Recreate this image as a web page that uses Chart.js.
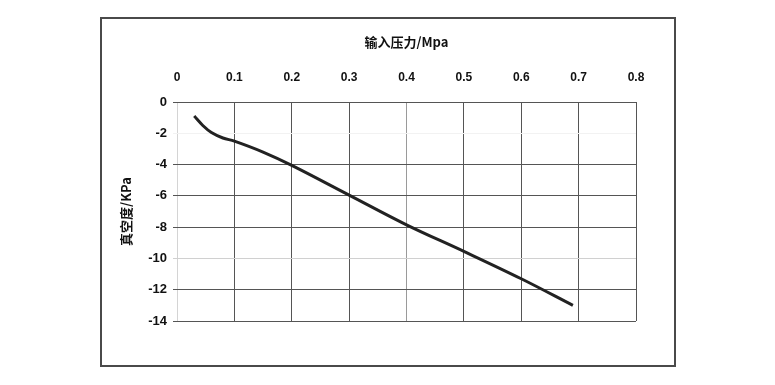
<!DOCTYPE html>
<html>
<head>
<meta charset="utf-8">
<script src="https://cdn.jsdelivr.net/npm/chart.js@4"></script>
<style>
  html, body { margin: 0; padding: 0; background: #fff; }
  #frame { position: absolute; left: 100px; top: 17px; width: 572px; height: 346px; border: 2px solid #4a4a4a; }
  #wrap { position: absolute; left: 0; top: 0; width: 775px; height: 385px; }
</style>
</head>
<body>
<div id="frame"></div>
<div id="wrap"><canvas id="vacuumChart" width="775" height="385"></canvas></div>
<script>
const ctx = document.querySelector("#vacuumChart").getContext("2d");

// input pressure (MPa) vs vacuum (kPa)
const pressure = [0.03, 0.045, 0.06, 0.08, 0.1, 0.15, 0.2, 0.3, 0.4, 0.5, 0.6, 0.69];
const vacuum = [-0.9, -1.5, -1.95, -2.3, -2.5, -3.2, -4.05, -5.95, -7.85, -9.55, -11.3, -13.0];

const xTitle = "输入压力/Mpa";
const yTitle = "真空度/KPa";

const points = pressure.map((p, i) => ({ x: p, y: vacuum[i] }));

const cjk = "'Noto Sans CJK SC', 'Liberation Sans', sans-serif";
const tickFont = { family: "'Liberation Sans', Arial, sans-serif", size: 12, weight: "bold" };

const data = {
  datasets: [
    {
      data: points,
      showLine: true,
      borderColor: "#222",
      borderWidth: 3,
      pointRadius: 0,
      tension: 0.35,
    },
  ],
};

const config = {
  type: "scatter",
  data: data,
  options: {
    responsive: false,
    animation: false,
    layout: { padding: { left: 110, right: 139, top: 30, bottom: 64 } },
    plugins: { legend: { display: false }, tooltip: { enabled: false } },
    scales: {
      x: {
        position: "top",
        min: 0,
        max: 0.8,
        afterFit: (scale) => { scale.height = 72; },
        ticks: {
          stepSize: 0.1,
          color: "#111",
          font: tickFont,
          padding: 17,
          callback: (v) => (Math.round(v * 10) / 10).toString(),
        },
        grid: {
          drawTicks: false,
          color: (c) => {
            const v = Math.round(c.tick.value * 10);
            if (v === 0) return "#d4d4d4";
            if (v === 4) return "#9a9a9a";
            return "#555";
          },
        },
        border: { display: false },
        title: {
          display: true,
          text: xTitle,
          color: "#111",
          font: { family: cjk, size: 13, weight: "bold" },
          padding: { top: 4, bottom: 0 },
        },
      },
      y: {
        min: -14,
        max: 0,
        afterFit: (scale) => { scale.width = 67; },
        ticks: {
          stepSize: 2,
          color: "#111",
          font: { family: "'Liberation Sans', Arial, sans-serif", size: 13, weight: "bold" },
          padding: 6,
        },
        grid: {
          tickLength: 4,
          color: (c) => {
            const v = c.tick.value;
            if (v === -2) return "#f2f2f2";
            if (v === -10) return "#d0d0d0";
            return "#555";
          },
        },
        border: { display: false },
        title: {
          display: true,
          text: yTitle,
          color: "#111",
          font: { family: cjk, size: 13, weight: "bold" },
          padding: { top: 8, bottom: 0 },
        },
      },
    },
  },
};

const myChart = new Chart(ctx, config);
</script>
</body>
</html>
